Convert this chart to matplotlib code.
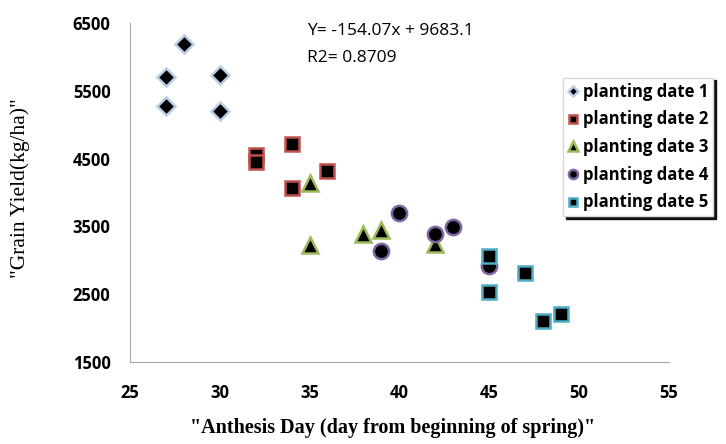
import matplotlib
matplotlib.use("Agg")
import matplotlib.pyplot as plt

# anthesis day / grain yield per planting date
x_pd1 = [28, 27, 30, 27, 30]
y_pd1 = [6190, 5710, 5740, 5270, 5200]
x_pd2 = [32, 32, 34, 34, 36]
y_pd2 = [4560, 4450, 4710, 4060, 4310]
x_pd3 = [35, 35, 38, 39, 42]
y_pd3 = [4140, 3230, 3380, 3450, 3240]
x_pd4 = [40, 39, 42, 43, 45]
y_pd4 = [3700, 3130, 3390, 3490, 2910]
x_pd5 = [45, 45, 47, 48, 49]
y_pd5 = [3060, 2530, 2810, 2100, 2210]

labels = ["planting date 1", "planting date 2", "planting date 3",
          "planting date 4", "planting date 5"]
xticks = [25, 30, 35, 40, 45, 50, 55]
yticks = [1500, 2500, 3500, 4500, 5500, 6500]

fig = plt.figure(figsize=(7.26, 4.44), dpi=100)
ax = fig.add_axes([0.179, 0.185, 0.742, 0.763])

styles = [("D", "#b9cde5", 9), ("s", "#c0504d", 10), ("^", "#9bbb59", 12),
          ("o", "#8064a2", 11), ("s", "#4bacc6", 10)]
series = [(x_pd1, y_pd1), (x_pd2, y_pd2), (x_pd3, y_pd3), (x_pd4, y_pd4), (x_pd5, y_pd5)]
for (xs, ys), (mk, ec, ms), lab in zip(series, styles, labels):
    ax.plot(xs, ys, ls="none", marker=mk, ms=ms, mfc="black", mec=ec, mew=1.8, label=lab)

ax.set_xlim(25, 55); ax.set_ylim(1500, 6500)
ax.set_xticks(xticks); ax.set_yticks(yticks)
ax.tick_params(length=0, labelsize=12)
ax.tick_params(axis="x", pad=16)
ax.tick_params(axis="y", pad=14)
for t in ax.get_xticklabels() + ax.get_yticklabels():
    t.set_fontweight("bold"); t.set_family("Open Sans")
for s in ["top", "right"]:
    ax.spines[s].set_visible(False)
for s in ["left", "bottom"]:
    ax.spines[s].set_color("#a6a6a6")

fig.text(0.541, 0.036, '"Anthesis Day (day from beginning of spring)"', family="Liberation Serif",
         fontweight="bold", fontsize=14.5, ha="center", va="center")
fig.text(0.028, 0.577, '"Grain Yield(kg/ha)"', family="Liberation Serif", fontsize=15.5,
         rotation=90, ha="center", va="center")

fig.text(0.423, 0.93, "Y= -154.07x + 9683.1", family="Open Sans", fontsize=12.5, va="center")
fig.text(0.423, 0.87, "R2= 0.8709", family="Open Sans", fontsize=12.5, va="center")

leg = fig.legend(loc="upper left", bbox_to_anchor=(0.7755, 0.825), frameon=True,
                 shadow={"color": "black", "alpha": 0.9}, fancybox=False,
                 borderaxespad=0, handlelength=0.6, handletextpad=0.3, labelspacing=0.58,
                 borderpad=0.3, prop={"family": "Open Sans", "weight": "bold", "size": 12},
                 markerscale=0.6)
leg.get_frame().set_edgecolor("#d9d9d9")

fig.savefig("out.png", dpi=100)
